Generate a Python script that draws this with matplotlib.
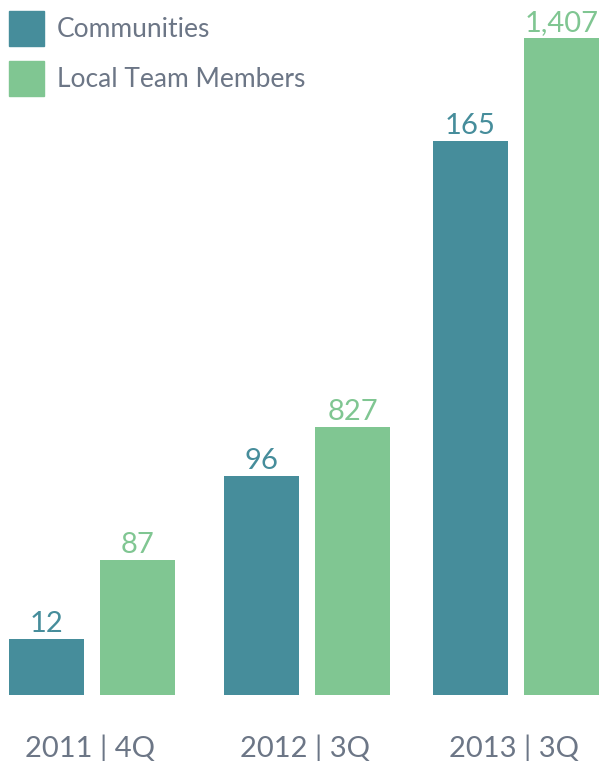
import numpy as np
import matplotlib
matplotlib.use("Agg")
import matplotlib.pyplot as plt
from matplotlib.patches import Rectangle

# categories and series
categories = ["2011 | 4Q", "2012 | 3Q", "2013 | 3Q"]
series = ["Communities", "Local Team Members"]
communities = [12, 96, 165]
team_members = [87, 827, 1407]
# drawn bar heights (the source chart is not to scale)
communities_h = [56, 219, 554]
team_members_h = [135, 268, 657]

teal = "#468d9b"
green = "#80c692"
grey = "#6c7686"

plt.rcParams["font.family"] = ["Lato", "DejaVu Sans"]

fig = plt.figure(figsize=(5.99, 7.61), dpi=100)
ax = fig.add_axes([0, 0, 1, 1])
ax.set_xlim(0, 599)
ax.set_ylim(-66, 695)
ax.axis("off")

centers = np.array([92, 307, 516])
width = 75
gap = 16
off = (width + gap) / 2

b1 = ax.bar(centers - off, communities_h, width, color=teal)
b2 = ax.bar(centers + off, team_members_h, width, color=green)

for bars, vals, col in [(b1, communities, teal), (b2, team_members, green)]:
    for b, v in zip(bars, vals):
        ax.text(b.get_x() + b.get_width() / 2, b.get_height() + 7, f"{v:,}",
                ha="center", va="baseline", fontsize=21, color=col)

for c, lab in zip(centers, categories):
    ax.text(c - 2, -62, lab, ha="center", va="baseline", fontsize=21, color=grey)

# legend
for i, (name, col) in enumerate(zip(series, [teal, green])):
    top = 11 + 50 * i
    fig.patches.append(Rectangle((9 / 599, 1 - (top + 35) / 761), 35 / 599, 35 / 761,
                                 transform=fig.transFigure, color=col))
    fig.text(57 / 599, 1 - (top + 26) / 761, name, fontsize=19, color=grey,
             ha="left", va="baseline")

fig.savefig("out.png", dpi=100)
